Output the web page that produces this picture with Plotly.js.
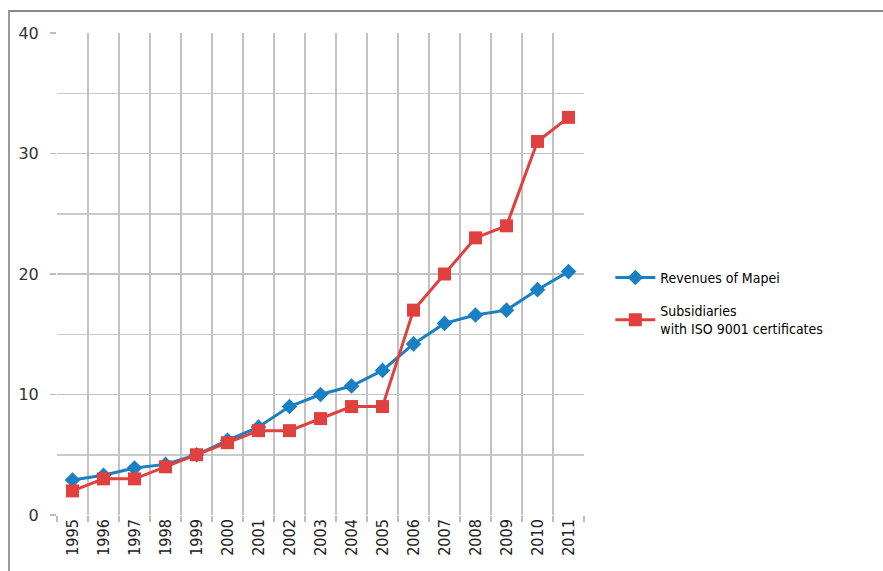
<!DOCTYPE html>
<html>
<head>
<meta charset="utf-8">
<script src="https://cdn.plot.ly/plotly-3.0.1.min.js"></script>
<style>
html,body{margin:0;padding:0;background:#fff;}
#wrap{position:relative;width:883px;height:571px;}
#chart{width:883px;height:571px;}
#frame{position:absolute;left:8px;top:10px;width:875px;height:561px;border-top:2px solid #8a8a8a;border-left:2px solid #9a9a9a;box-sizing:border-box;pointer-events:none;}
</style>
</head>
<body>
<div id="wrap"><div id="chart"></div><div id="frame"></div></div>
<script>
const years = ['1995','1996','1997','1998','1999','2000','2001','2002','2003','2004','2005','2006','2007','2008','2009','2010','2011'];
const revenues = [2.9,3.3,3.9,4.2,5.0,6.2,7.3,9.0,10.0,10.7,12.0,14.2,15.9,16.6,17.0,18.7,20.2];
const subsidiaries = [2,3,3,4,5,6,7,7,8,9,9,17,20,23,24,31,33];
const seriesNames = ['Revenues of Mapei','Subsidiaries<br>with ISO 9001 certificates'];
const yTicks = [0,10,20,30,40];

const traces = [
  {x: years, y: revenues, name: seriesNames[0], legendgroup:'rev', type:'scatter', mode:'lines+markers',
   line:{color:'#1b7fc3', width:3}, marker:{symbol:'diamond', size:12, color:'#1b7fc3'}},
  {x: years, y: subsidiaries, name: seriesNames[1], legendgroup:'sub', type:'scatter', mode:'lines+markers',
   line:{color:'#e0413f', width:3}, marker:{symbol:'square', size:13, color:'#e0413f'}}
];
const layout = {
  width:883, height:571,
  margin:{l:57, r:299, t:33, b:56},
  paper_bgcolor:'#ffffff', plot_bgcolor:'#ffffff',
  showlegend:true,
  legend:{x:1.05, y:0.525, xanchor:'left', yanchor:'top', tracegroupgap:12,
    font:{family:'DejaVu Sans Condensed, sans-serif', size:14, color:'#000'},
    itemwidth:40, bgcolor:'rgba(0,0,0,0)'},
  xaxis:{type:'category', range:[-0.5,16.5], tickson:'boundaries', ticks:'outside', ticklen:6,
    tickcolor:'#bdbdbd', tickwidth:1.5, showgrid:true, gridcolor:'#c2c2c2', gridwidth:1.5,
    tickangle:-90, tickfont:{family:'DejaVu Sans Condensed, sans-serif', size:16, color:'#222'},
    showline:false, zeroline:false, fixedrange:true},
  yaxis:{range:[0,40], tickvals:yTicks, ticks:'outside', ticklen:6, tickcolor:'#bdbdbd', tickwidth:1.5,
    showgrid:true, gridcolor:'#c2c2c2', gridwidth:1.5, zeroline:false, showline:false,
    minor:{dtick:5, tick0:0, showgrid:true, gridcolor:'#cacaca', gridwidth:1.5, ticks:''},
    ticklabelstandoff:8,
    tickfont:{family:'DejaVu Sans, sans-serif', size:16, color:'#333'}, fixedrange:true}
};
Plotly.newPlot('chart', traces, layout, {displayModeBar:false, staticPlot:true});
</script>
</body>
</html>
